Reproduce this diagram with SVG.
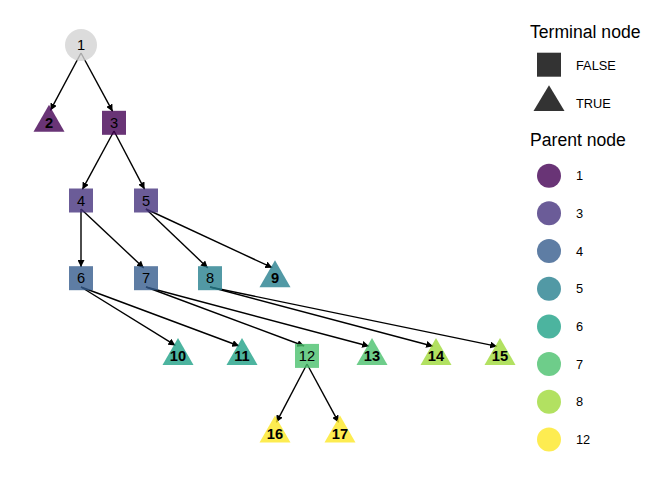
<svg xmlns="http://www.w3.org/2000/svg" width="672" height="480" viewBox="0 0 672 480">
<defs>
<marker id="arr" markerUnits="userSpaceOnUse" markerWidth="8" markerHeight="7" refX="7" refY="3.5" orient="auto">
<path d="M0,0 L7,3.5 L0,7 z" fill="#000"/>
</marker>
</defs>
<style>
.e{stroke:#000;stroke-width:1.4;fill:none;marker-end:url(#arr)}
.n{fill-opacity:0.8}
.ls{font-family:"Liberation Sans",Arial,sans-serif;font-size:14.67px;text-anchor:middle;fill:#000}
.lt{font-family:"Liberation Sans",Arial,sans-serif;font-size:14.67px;font-weight:bold;text-anchor:middle;fill:#000}
.lgt{font-family:"Liberation Sans",Arial,sans-serif;font-size:17.6px;fill:#000}
.lgl{font-family:"Liberation Sans",Arial,sans-serif;font-size:12.8px;fill:#000}
</style>
<rect width="672" height="480" fill="#fff"/>
<g id="edges">
<line class="e" x1="81" y1="53" x2="50.4" y2="110.4"/>
<line class="e" x1="81" y1="53" x2="112.6" y2="111.4"/>
<line class="e" x1="114" y1="131" x2="82.4" y2="189.4"/>
<line class="e" x1="114" y1="131" x2="144.6" y2="189.3"/>
<line class="e" x1="81" y1="209" x2="81" y2="267"/>
<line class="e" x1="81" y1="209" x2="143.8" y2="268"/>
<line class="e" x1="146" y1="209" x2="207.8" y2="267.9"/>
<line class="e" x1="146" y1="209" x2="272.3" y2="267.7"/>
<line class="e" x1="81" y1="287" x2="175.4" y2="345.4"/>
<line class="e" x1="81" y1="287" x2="239.2" y2="346"/>
<line class="e" x1="146" y1="287" x2="304.2" y2="346"/>
<line class="e" x1="146" y1="287" x2="369.1" y2="346.2"/>
<line class="e" x1="210" y1="287" x2="433.1" y2="346.2"/>
<line class="e" x1="210" y1="287" x2="497.1" y2="346.4"/>
<line class="e" x1="307" y1="364" x2="276.4" y2="422.3"/>
<line class="e" x1="307" y1="364" x2="338.6" y2="422.4"/>
</g>
<g id="node1"><circle class="n" cx="81" cy="45" r="16" fill="#D3D3D3"/><text class="ls" x="81" y="50.2">1</text></g>
<g id="node2"><polygon class="n" points="49,104.8 33.5,131.8 64.5,131.8" fill="#440154"/><text class="lt" x="49" y="128">2</text></g>
<g id="node3"><rect class="n" x="102" y="110.8" width="24" height="24" fill="#440154"/><text class="ls" x="114" y="128">3</text></g>
<g id="node4"><rect class="n" x="69" y="188.5" width="24" height="24" fill="#46337E"/><text class="ls" x="81" y="205.7">4</text></g>
<g id="node5"><rect class="n" x="134" y="188.5" width="24" height="24" fill="#46337E"/><text class="ls" x="146" y="205.7">5</text></g>
<g id="node6"><rect class="n" x="69" y="266.2" width="24" height="24" fill="#365C8D"/><text class="ls" x="81" y="283.4">6</text></g>
<g id="node7"><rect class="n" x="134" y="266.2" width="24" height="24" fill="#365C8D"/><text class="ls" x="146" y="283.4">7</text></g>
<g id="node8"><rect class="n" x="198" y="266.2" width="24" height="24" fill="#277F8E"/><text class="ls" x="210" y="283.4">8</text></g>
<g id="node9"><polygon class="n" points="275,260.2 259.5,287.2 290.5,287.2" fill="#277F8E"/><text class="lt" x="275" y="283.4">9</text></g>
<g id="node10"><polygon class="n" points="178,337.9 162.5,364.9 193.5,364.9" fill="#1FA187"/><text class="lt" x="178" y="361.1">10</text></g>
<g id="node11"><polygon class="n" points="242,337.9 226.5,364.9 257.5,364.9" fill="#1FA187"/><text class="lt" x="242" y="361.1">11</text></g>
<g id="node12"><rect class="n" x="295" y="343.9" width="24" height="24" fill="#4AC16D"/><text class="ls" x="307" y="361.1">12</text></g>
<g id="node13"><polygon class="n" points="372,337.9 356.5,364.9 387.5,364.9" fill="#4AC16D"/><text class="lt" x="372" y="361.1">13</text></g>
<g id="node14"><polygon class="n" points="436,337.9 420.5,364.9 451.5,364.9" fill="#9FDA3A"/><text class="lt" x="436" y="361.1">14</text></g>
<g id="node15"><polygon class="n" points="500,337.9 484.5,364.9 515.5,364.9" fill="#9FDA3A"/><text class="lt" x="500" y="361.1">15</text></g>
<g id="node16"><polygon class="n" points="275,415.6 259.5,442.6 290.5,442.6" fill="#FDE725"/><text class="lt" x="275" y="438.8">16</text></g>
<g id="node17"><polygon class="n" points="340,415.6 324.5,442.6 355.5,442.6" fill="#FDE725"/><text class="lt" x="340" y="438.8">17</text></g>
<g id="legend">
<text class="lgt" x="530" y="37.5">Terminal node</text>
<rect x="537" y="52.7" width="24" height="24" fill="#333333"/>
<text class="lgl" x="576" y="69.5">FALSE</text>
<polygon points="549,85.3 533.5,111 564.5,111" fill="#333333"/>
<text class="lgl" x="576" y="107.7">TRUE</text>
<text class="lgt" x="530" y="146">Parent node</text>
<circle class="n" cx="549" cy="175.7" r="12" fill="#440154"/><text class="lgl" x="576" y="180.3">1</text>
<circle class="n" cx="549" cy="213.3" r="12" fill="#46337E"/><text class="lgl" x="576" y="217.9">3</text>
<circle class="n" cx="549" cy="251" r="12" fill="#365C8D"/><text class="lgl" x="576" y="255.6">4</text>
<circle class="n" cx="549" cy="288.7" r="12" fill="#277F8E"/><text class="lgl" x="576" y="293.3">5</text>
<circle class="n" cx="549" cy="326.4" r="12" fill="#1FA187"/><text class="lgl" x="576" y="331">6</text>
<circle class="n" cx="549" cy="364.1" r="12" fill="#4AC16D"/><text class="lgl" x="576" y="368.7">7</text>
<circle class="n" cx="549" cy="401.8" r="12" fill="#9FDA3A"/><text class="lgl" x="576" y="406.4">8</text>
<circle class="n" cx="549" cy="439.4" r="12" fill="#FDE725"/><text class="lgl" x="576" y="444">12</text>
</g>
</svg>
